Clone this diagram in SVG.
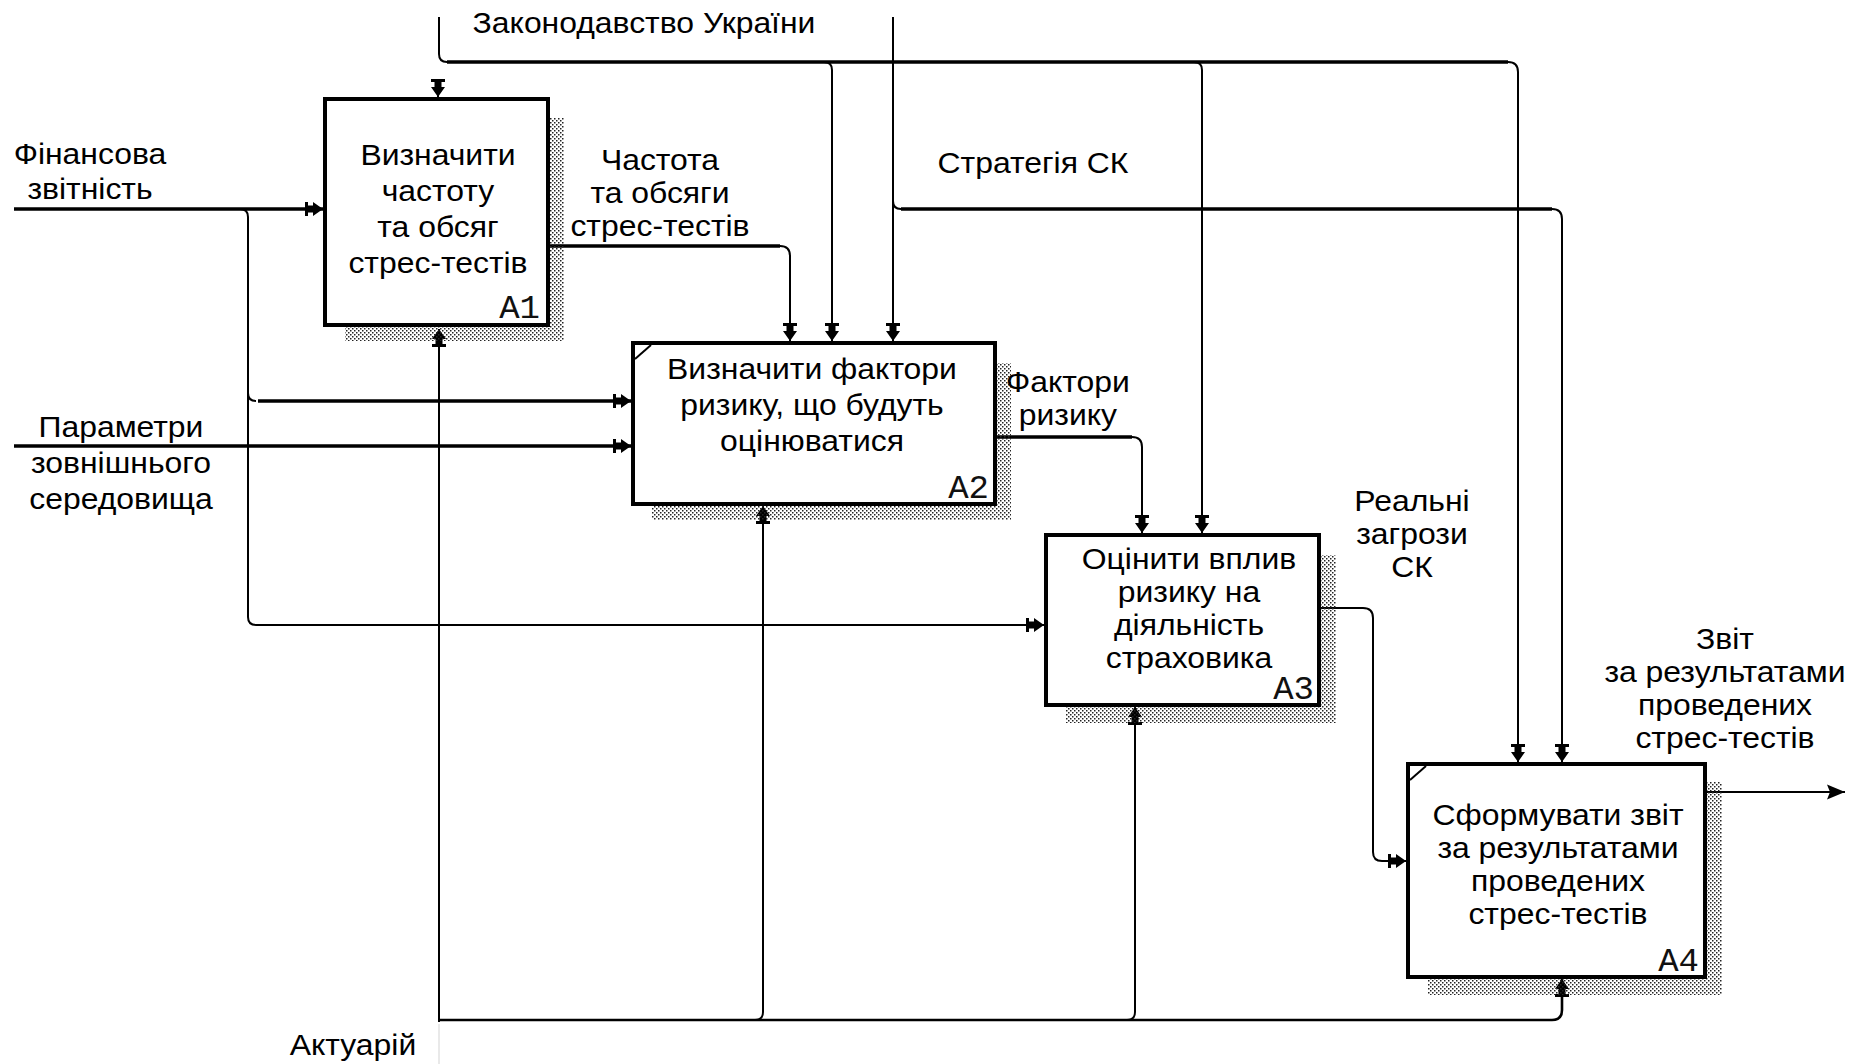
<svg xmlns="http://www.w3.org/2000/svg" width="1863" height="1064" viewBox="0 0 1863 1064">
  <style>
    text { font-family: "Liberation Sans", Arial, sans-serif; font-size: 29px; fill: #000; text-anchor: middle; }
    /* labels are set slightly wide, as in the original drawing */
    text:not(.num) { transform-box: fill-box; transform-origin: center; transform: scaleX(1.1); }
    .num { font-family: "Liberation Mono", "Courier New", monospace; font-size: 34px; text-anchor: end; fill: #111; }
    .box { fill: #fff; stroke: #000; stroke-width: 4; }
    .shadow { fill: url(#dots); }
    .tick { fill: none; stroke: #000; stroke-width: 2; }
    .thick { fill: none; stroke: #000; stroke-width: 3.5; }
    .thin { fill: none; stroke: #000; stroke-width: 2; }
    .faint { fill: none; stroke: #e2e2e2; stroke-width: 1.5; }
  </style>
  <defs>
    <pattern id="dots" width="4" height="4" patternUnits="userSpaceOnUse">
      <rect x="0" y="0" width="1.5" height="1.5" fill="#222"/>
      <rect x="2" y="2" width="1.5" height="1.5" fill="#222"/>
    </pattern>
    <!-- IDEF0-style arrowhead: triangle, neck and back bar -->
    <marker id="ah" markerUnits="userSpaceOnUse" viewBox="-19 -8 20 16" refX="0" refY="0" markerWidth="20" markerHeight="16" orient="auto" overflow="visible">
      <path d="M0,0 L-10,-7 L-10,7 Z M-15,-3.5 L-10,-3.5 L-10,3.5 L-15,3.5 Z M-18,-7 L-15,-7 L-15,7 L-18,7 Z" fill="#000"/>
    </marker>
    <marker id="out" markerUnits="userSpaceOnUse" viewBox="-19 -8 20 16" refX="0" refY="0" markerWidth="20" markerHeight="16" orient="auto" overflow="visible">
      <path d="M0,0 L-18,-7.5 L-15,0 L-18,7.5 Z" fill="#000"/>
    </marker>
  </defs>

  <rect width="1863" height="1064" fill="#fff"/>

  <!-- connectors -->
  <g id="connectors">
    <!-- Законодавство України -->
    <path class="thin" d="M439,17 V54 Q439,62 447,62"/>
    <path class="thick" d="M447,62 H1508"/>
    <path class="thin" d="M1508,62 Q1518,62 1518,72 V762" marker-end="url(#ah)"/>
    <path class="thin" d="M824,62 Q832,62 832,70 V341" marker-end="url(#ah)"/>
    <path class="thin" d="M1194,62 Q1202,62 1202,70 V533" marker-end="url(#ah)"/>
    <path class="thin" d="M438,80 V97" marker-end="url(#ah)"/>

    <!-- Стратегія СК -->
    <path class="thin" d="M893,17 V341" marker-end="url(#ah)"/>
    <path class="thin" d="M893,201 Q893,209 901,209"/>
    <path class="thick" d="M901,209 H1552"/>
    <path class="thin" d="M1552,209 Q1562,209 1562,219 V762" marker-end="url(#ah)"/>

    <!-- Фінансова звітність -->
    <path class="thick" d="M14,209 H323" marker-end="url(#ah)"/>
    <path class="thin" d="M240,209 Q248,209 248,217 V617 Q248,625 256,625"/>
    <path class="thin" d="M248,393 Q248,401 256,401"/>
    <path class="thick" d="M258,401 H631" marker-end="url(#ah)"/>
    <path class="thin" d="M256,625 H1044" marker-end="url(#ah)"/>

    <!-- Параметри зовнішнього середовища -->
    <path class="thick" d="M14,446 H631" marker-end="url(#ah)"/>

    <!-- Частота та обсяги стрес-тестів -->
    <path class="thick" d="M550,246 H780"/>
    <path class="thin" d="M780,246 Q790,246 790,256 V341" marker-end="url(#ah)"/>

    <!-- Фактори ризику -->
    <path class="thick" d="M997,437 H1132"/>
    <path class="thin" d="M1132,437 Q1142,437 1142,447 V533" marker-end="url(#ah)"/>

    <!-- Реальні загрози СК -->
    <path class="thin" d="M1321,608 H1363 Q1373,608 1373,618 V852 Q1373,861 1382,861 H1406" marker-end="url(#ah)"/>

    <!-- Звіт за результатами проведених стрес-тестів -->
    <path class="thin" d="M1707,792 H1845" marker-end="url(#out)"/>

    <!-- Актуарій -->
    <path class="faint" d="M439,1024 V1064"/>
    <path class="thin" d="M439,1022 V329" marker-end="url(#ah)"/>
    <path class="thick" style="stroke-width:2.6" d="M439,1020 H1552 Q1562,1020 1562,1010 V979" marker-end="url(#ah)"/>
    <path class="thin" d="M755,1020 Q763,1020 763,1012 V506" marker-end="url(#ah)"/>
    <path class="thin" d="M1127,1020 Q1135,1020 1135,1012 V707" marker-end="url(#ah)"/>
  </g>

  <!-- A1 -->
  <g id="A1">
    <rect class="shadow" x="550" y="118" width="14" height="223"/>
    <rect class="shadow" x="345" y="327" width="205" height="14"/>
    <rect class="box" x="325" y="99" width="223" height="226"/>
    <text x="438" y="165">Визначити</text>
    <text x="438" y="201">частоту</text>
    <text x="438" y="237">та обсяг</text>
    <text x="438" y="273">стрес-тестів</text>
    <text class="num" x="540" y="318">A1</text>
  </g>

  <!-- A2 -->
  <g id="A2">
    <rect class="shadow" x="997" y="363" width="14" height="157"/>
    <rect class="shadow" x="652" y="506" width="345" height="14"/>
    <rect class="box" x="633" y="343" width="362" height="161"/>
    <path class="tick" d="M635,359 L651,345"/>
    <text x="812" y="379">Визначити фактори</text>
    <text x="812" y="415">ризику, що будуть</text>
    <text x="812" y="451">оцінюватися</text>
    <text class="num" x="989" y="498">A2</text>
  </g>

  <!-- A3 -->
  <g id="A3">
    <rect class="shadow" x="1321" y="555" width="15" height="168"/>
    <rect class="shadow" x="1066" y="707" width="255" height="16"/>
    <rect class="box" x="1046" y="535" width="273" height="170"/>
    <text x="1189" y="569">Оцінити вплив</text>
    <text x="1189" y="602">ризику на</text>
    <text x="1189" y="635">діяльність</text>
    <text x="1189" y="668">страховика</text>
    <text class="num" x="1314" y="699">A3</text>
  </g>

  <!-- A4 -->
  <g id="A4">
    <rect class="shadow" x="1707" y="782" width="15" height="213"/>
    <rect class="shadow" x="1428" y="979" width="279" height="16"/>
    <rect class="box" x="1408" y="764" width="297" height="213"/>
    <path class="tick" d="M1410,780 L1426,766"/>
    <text x="1558" y="825">Сформувати звіт</text>
    <text x="1558" y="858">за результатами</text>
    <text x="1558" y="891">проведених</text>
    <text x="1558" y="924">стрес-тестів</text>
    <text class="num" x="1699" y="971">A4</text>
  </g>

  <!-- arrow labels -->
  <g id="labels">
    <text x="644" y="33">Законодавство України</text>
    <text x="90" y="164">Фінансова</text>
    <text x="90" y="199">звітність</text>
    <text x="121" y="437">Параметри</text>
    <text x="121" y="473">зовнішнього</text>
    <text x="121" y="509">середовища</text>
    <text x="660" y="170">Частота</text>
    <text x="660" y="203">та обсяги</text>
    <text x="660" y="236">стрес-тестів</text>
    <text x="1033" y="173">Стратегія СК</text>
    <text x="1068" y="392">Фактори</text>
    <text x="1068" y="425">ризику</text>
    <text x="1412" y="511">Реальні</text>
    <text x="1412" y="544">загрози</text>
    <text x="1412" y="577">СК</text>
    <text x="1725" y="649">Звіт</text>
    <text x="1725" y="682">за результатами</text>
    <text x="1725" y="715">проведених</text>
    <text x="1725" y="748">стрес-тестів</text>
    <text x="353" y="1055">Актуарій</text>
  </g>
</svg>
